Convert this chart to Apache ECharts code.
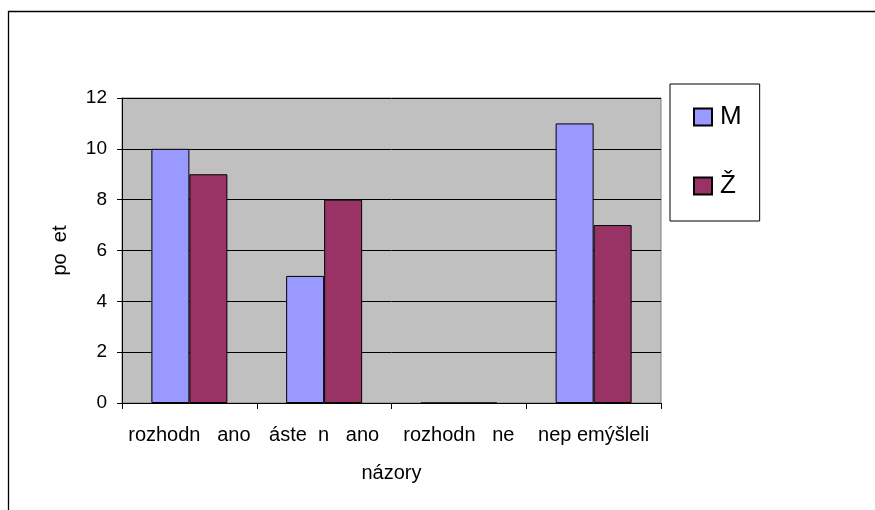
<!DOCTYPE html>
<html>
<head>
<meta charset="utf-8">
<script src="https://cdn.jsdelivr.net/npm/echarts@6/dist/echarts.min.js"></script>
<style>
  html, body { margin: 0; padding: 0; background: #fff; }
  #main { width: 875px; height: 510px; }
</style>
</head>
<body>
<div id="main"></div>
<script>
var categories = ['rozhodn   ano', 'áste  n   ano', 'rozhodn   ne', 'nep emýšleli'];
var valuesM = [10, 5, 0, 11];
var valuesZ = [9, 8, 0, 7];
var yTicks = [0, 2, 4, 6, 8, 10, 12];

var font = 'Liberation Sans, Arial, sans-serif';
var myChart = echarts.init(document.getElementById('main'));
option = {
	animation: false,
	backgroundColor: '#ffffff',
	color: ['#9999ff', '#993366'],
	textStyle: { fontFamily: font },
	graphic: [{
		type: 'rect',
		shape: { x: 8.5, y: 11.5, width: 880, height: 520 },
		style: { fill: null, stroke: '#000', lineWidth: 1.3 },
		z: -1
	}],
	legend: {
		orient: 'vertical',
		left: 670,
		top: 84,
		itemWidth: 18,
		itemHeight: 17,
		itemGap: 43,
		padding: [20, 18, 22, 23],
		borderColor: '#000',
		borderWidth: 1,
		backgroundColor: '#fff',
		icon: 'rect',
		textStyle: { fontSize: 26, color: '#000', fontFamily: font, padding: [0, 0, 0, 3] },
		data: ['M', 'Ž']
	},
	grid: {
		left: 122,
		right: 214,
		top: 98,
		bottom: 107,
		show: true,
		backgroundColor: '#c0c0c0',
		borderColor: '#808080',
		borderWidth: 1
	},
	xAxis: {
		type: 'category',
		data: categories,
		name: 'názory',
		nameLocation: 'middle',
		nameGap: 60,
		nameTextStyle: { fontSize: 20, color: '#000', fontFamily: font },
		axisLine: { lineStyle: { color: '#000', width: 1 } },
		axisTick: { show: true, alignWithLabel: false, interval: 0, length: 6, lineStyle: { color: '#000' } },
		axisLabel: { interval: 0, margin: 22, fontSize: 20, color: '#000', fontFamily: font }
	},
	yAxis: {
		type: 'value',
		min: yTicks[0],
		max: yTicks[yTicks.length - 1],
		interval: yTicks[1] - yTicks[0],
		name: 'po  et',
		nameLocation: 'middle',
		nameGap: 52,
		nameTextStyle: { fontSize: 20, color: '#000', fontFamily: font },
		axisLine: { show: true, lineStyle: { color: '#000', width: 1 } },
		axisTick: { show: true, length: 5, lineStyle: { color: '#000' } },
		axisLabel: { margin: 15, fontSize: 19, color: '#000', fontFamily: font },
		splitLine: { show: true, lineStyle: { color: '#000', width: 1 } }
	},
	series: [{
		name: 'M',
		type: 'bar',
		barWidth: 38,
		barGap: '0%',
		data: valuesM,
		itemStyle: { borderColor: '#000', borderWidth: 1 }
	}, {
		name: 'Ž',
		type: 'bar',
		barWidth: 38,
		data: valuesZ,
		itemStyle: { borderColor: '#000', borderWidth: 1 }
	}]
};
myChart.setOption(option);
</script>
</body>
</html>
